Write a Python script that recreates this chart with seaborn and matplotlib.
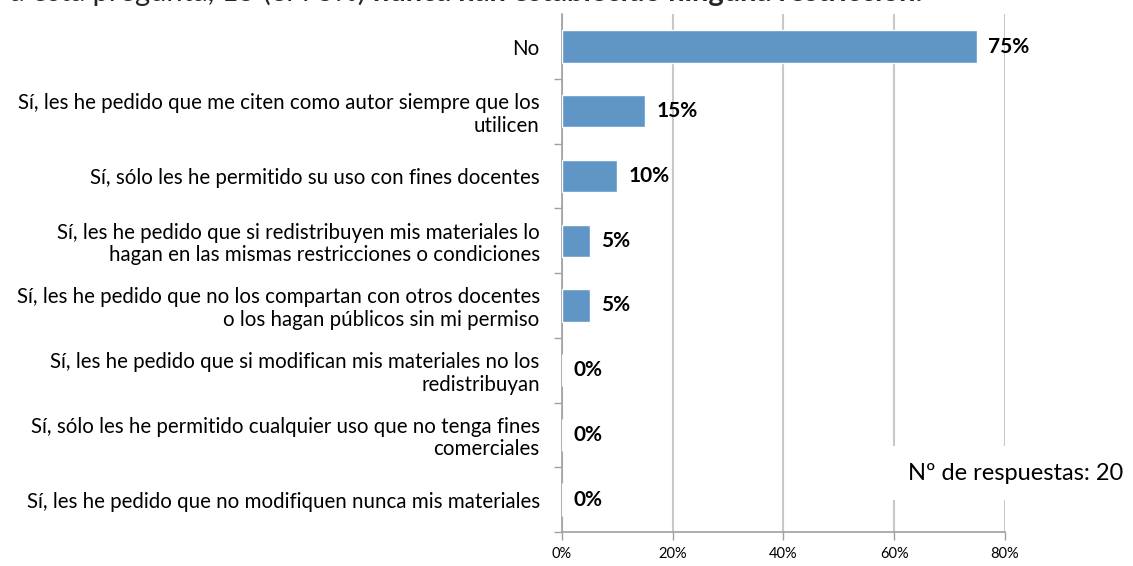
import numpy as np
import pandas as pd
import matplotlib
matplotlib.use('Agg')
import matplotlib.pyplot as plt
import seaborn as sns

# Datos de la pregunta
categorias = [
    'No',
    'Sí, les he pedido que me citen como autor siempre que los\nutilicen',
    'Sí, sólo les he permitido su uso con fines docentes',
    'Sí, les he pedido que si redistribuyen mis materiales lo\nhagan en las mismas restricciones o condiciones',
    'Sí, les he pedido que no los compartan con otros docentes\no los hagan públicos sin mi permiso',
    'Sí, les he pedido que si modifican mis materiales no los\nredistribuyan',
    'Sí, sólo les he permitido cualquier uso que no tenga fines\ncomerciales',
    'Sí, les he pedido que no modifiquen nunca mis materiales',
]
porcentajes = [0.75, 0.15, 0.10, 0.05, 0.05, 0.0, 0.0, 0.0]
ticks_x = [0.0, 0.2, 0.4, 0.6, 0.8]
etiquetas_x = ['0%', '20%', '40%', '60%', '80%']
texto_superior = 'a esta pregunta, 15 (el 75%) '
texto_superior_negrita = 'nunca han establecido ninguna restricción.'
nota = 'Nº de respuestas: 20'

df = pd.DataFrame({'categoria': categorias, 'pct': porcentajes})

sns.set_theme(style='white')
plt.rcParams['font.family'] = ['Lato', 'DejaVu Sans']

fig = plt.figure(figsize=(11.33, 5.66), dpi=100)
ax = fig.add_axes([0.496, 0.06, 0.391, 0.915])

sns.barplot(data=df, x='pct', y='categoria', orient='h', color='#6096C6',
            saturation=1, width=0.5, ax=ax, zorder=3)

ax.set_xlim(0, 0.8)
ax.set_ylim(len(categorias) - 0.5, -0.5)
ax.set_xticks(ticks_x)
ax.set_xticklabels(etiquetas_x, fontsize=10.5, color='black')
ax.set_xlabel('')
ax.set_ylabel('')
ax.tick_params(axis='y', which='major', left=False, length=0, labelsize=14.8,
               labelcolor='black', pad=16)
ax.set_yticks(np.arange(len(categorias)) + 0.5, minor=True)
ax.tick_params(axis='y', which='minor', left=True, length=6, color='#a0a0a0', width=1)
ax.tick_params(axis='x', bottom=True, length=6, color='#a0a0a0', width=1, pad=5)
for lbl in ax.get_yticklabels():
    lbl.set_linespacing(1.15)

ax.xaxis.grid(True, color='#c8c8c8', linewidth=1.5, zorder=0)
ax.set_axisbelow(True)
sns.despine(ax=ax, top=True, right=True)
for s in ['left', 'bottom']:
    ax.spines[s].set_color('#a0a0a0')
    ax.spines[s].set_linewidth(1.2)

# Etiquetas de valores
for i, v in enumerate(porcentajes):
    ax.annotate(f'{v:.0%}', xy=(v, i), xytext=(8, 0), textcoords='offset points',
                va='center', ha='left', fontsize=15, fontweight='bold', color='black')

# Nota con fondo blanco que tapa la rejilla
fig.text(0.801, 0.164, nota, fontsize=17, color='black', va='center', ha='left',
         bbox=dict(facecolor='white', edgecolor='none', pad=12), zorder=10)

# Texto superior cortado (solo se ve la parte de abajo)
y_sup = 1 - 1.0 / 566
t1 = fig.text(0.009, y_sup, texto_superior, fontsize=21, va='baseline', ha='left')
fig.canvas.draw()
bb = t1.get_window_extent()
x2 = bb.x1 / fig.bbox.width
fig.text(x2, y_sup, texto_superior_negrita, fontsize=21, va='baseline', ha='left',
         fontweight='bold')

fig.savefig('out.png', dpi=100)
